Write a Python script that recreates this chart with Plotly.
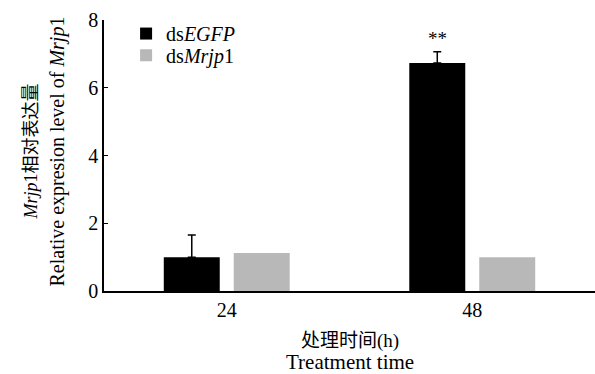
import plotly.graph_objects as go

categories = ["24", "48"]
egfp_values = [1.0, 6.73]
egfp_err = [0.65, 0.33]
mrjp_values = [1.12, 1.0]
y_ticks = [0, 2, 4, 6, 8]

FONT = "'Liberation Serif', 'Noto Sans CJK SC', serif"

fig = go.Figure()
fig.add_trace(go.Bar(
    x=categories, y=egfp_values, name="ds<i>EGFP</i>", legend="legend",
    marker=dict(color="#000000", line=dict(width=0)),
    error_y=dict(type="data", array=egfp_err, arrayminus=[0, 0], symmetric=False,
                 color="#000000", thickness=1.5, width=4),
))
fig.add_trace(go.Bar(
    x=categories, y=mrjp_values, name="ds<i>Mrjp</i>1", legend="legend2",
    marker=dict(color="#b8b8b8", line=dict(width=0)),
))

fig.add_annotation(x=0.858, y=egfp_values[1] + egfp_err[1], xref="x", yref="y",
                   text="**", showarrow=False, yanchor="bottom", yshift=1,
                   font=dict(family=FONT, size=19, color="#000"))

# x-axis title (two lines)
fig.add_annotation(x=0.5, y=0, xref="paper", yref="paper", text="处理时间(h)",
                   showarrow=False, yanchor="middle", yshift=-50,
                   font=dict(family=FONT, size=19, color="#000"))
fig.add_annotation(x=0.5, y=0, xref="paper", yref="paper", text="Treatment time",
                   showarrow=False, yanchor="middle", yshift=-71,
                   font=dict(family=FONT, size=21, color="#000"))
# y-axis title (two lines)
fig.add_annotation(x=0, y=0.5, xref="paper", yref="paper",
                   text="<i>Mrjp</i>1相对表达量", showarrow=False, textangle=-90,
                   xanchor="center", xshift=-74, yshift=4,
                   font=dict(family=FONT, size=18, color="#000"))
fig.add_annotation(x=0, y=0.5, xref="paper", yref="paper",
                   text="Relative expresion level of <i>Mrjp</i>1", showarrow=False,
                   textangle=-90, xanchor="center", xshift=-47, yshift=4,
                   font=dict(family=FONT, size=20, color="#000"))

leg_common = dict(xanchor="left", yanchor="middle", bgcolor="rgba(0,0,0,0)",
                  font=dict(family=FONT, size=20, color="#000"), itemwidth=30)
fig.update_layout(
    width=595, height=374,
    margin=dict(l=104, r=0, t=20, b=83),
    paper_bgcolor="white", plot_bgcolor="white",
    barmode="group", bargap=0.43, bargroupgap=0.2,
    font=dict(family=FONT, size=20, color="#000"),
    showlegend=True,
    legend=dict(x=0.045, y=0.95, **leg_common),
    legend2=dict(x=0.045, y=0.87, **leg_common),
    xaxis=dict(type="category", range=[-0.5, 1.5], showline=True, linecolor="#000",
               linewidth=1.5, ticks="", showgrid=False, zeroline=False,
               automargin=False, tickfont=dict(size=20)),
    yaxis=dict(range=[0, 8], tickvals=y_ticks, showline=True, linecolor="#000",
               linewidth=1.5, ticks="inside", ticklen=4, tickcolor="#000",
               showgrid=False, zeroline=False, automargin=False,
               tickfont=dict(size=20)),
)

fig.write_html("out.html", config={"displayModeBar": False},
               post_script="document.body.style.margin='0';document.body.style.overflow='hidden';")
